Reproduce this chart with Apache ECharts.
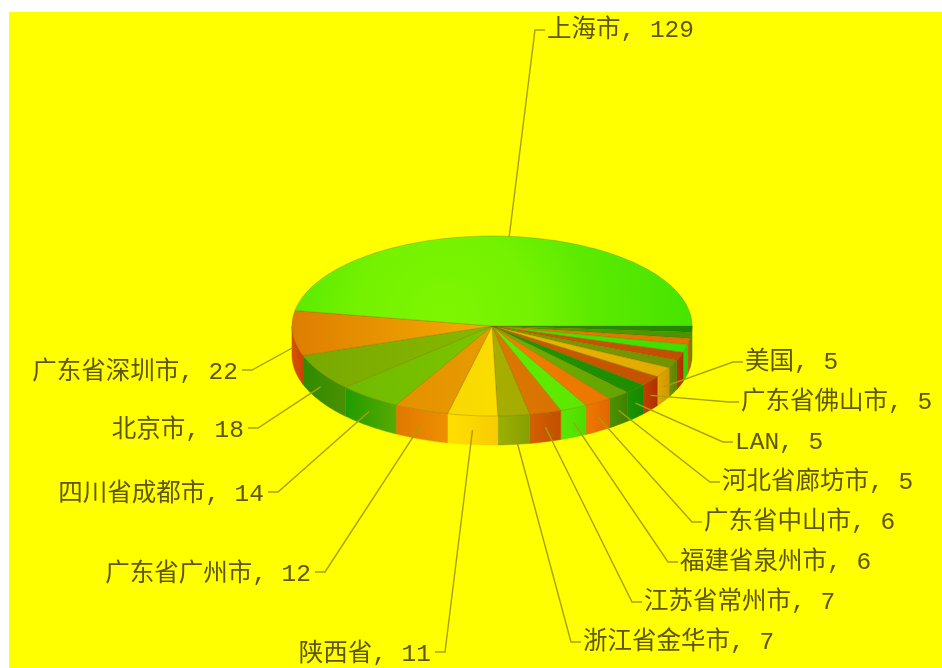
<!DOCTYPE html>
<html><head><meta charset="utf-8">
<style>html,body{margin:0;padding:0;background:#fff}#c{width:942px;height:668px;filter:blur(0.45px)}</style>
<script src="https://cdn.jsdelivr.net/npm/echarts@6/dist/echarts.min.js"></script>
</head><body><div id="c"></div>
<script>
// clockwise from the east edge of the pie; unnamed slices carry no label in the reference
const categories = ['', '', '', '', '', '', '美国', '广东省佛山市', 'LAN', '河北省廊坊市', '广东省中山市', '福建省泉州市', '江苏省常州市', '浙江省金华市', '陕西省', '广东省广州市', '四川省成都市', '北京市', '广东省深圳市', '上海市'];
const values = [3, 3, 3, 4, 4, 4, 5, 5, 5, 5, 6, 6, 7, 7, 11, 12, 14, 18, 22, 129];
const topLight = ['#229400','#559E00','#EC8000','#4CE400','#CE5800','#7E9E00','#EAB800','#CC5C00','#229400','#70AE00','#F08000','#62EA00','#DC7800','#A8AE00','#FADC00','#E89C00','#7CC400','#86B800','#F4AE00','#7EF600'];
const topDark  = ['#1C8A00','#4A9400','#E47000','#42DC00','#C44C00','#709200','#E0A800','#C25000','#1C8A00','#60A000','#E87000','#58E400','#D06800','#98A400','#F6CC00','#E08400','#6CB800','#78A800','#DE7E00','#46E400'];
const wallLight = ['#34A000','#4A9800','#E06000','#3CD800','#BC3800','#6C9000','#E0A800','#C04000','#1C9400','#4E9000','#F07800','#5AE800','#D46000','#9CB000','#FFE000','#E07800','#209C00','#2E8C00','#D85400','#46E400'];
const wallDark  = ['#2C9400','#408C00','#D85000','#30CC00','#AC3000','#5C8400','#D09800','#B03000','#168800','#408200','#E06800','#4EDC00','#C05000','#84A000','#F8CC00','#EE9000','#58AA00','#4A9000','#C84400','#40D800'];
const labelElbows = [null,null,null,null,null,null,[733,362],[729,402],[723,442],[710,482],[692,522],[668,562],[632,602],[571,642],[445,652],[325,572],[278,492],[258,428],[252,370],[535,30]];

const panel = {left: 9, top: 12};
const pie = {cx: 492, cy: 326, rx: 200, ry: 90, depth: 29};
const total = values.reduce((a, b) => a + b, 0);
const startDeg = values.map((v, i) => values.slice(0, i).reduce((a, b) => a + b, 0) / total * 360);
const endDeg = startDeg.map((s, i) => s + values[i] / total * 360);
const rim = d => {
  const t = d * Math.PI / 180;
  return [pie.cx + pie.rx * Math.cos(t), pie.cy + pie.ry * Math.sin(t)];
};
const arc = (a, b) => {
  const n = Math.max(2, Math.ceil((b - a) / 1.5)), out = [];
  for (let i = 0; i <= n; i++) out.push(rim(a + (b - a) * i / n));
  return out;
};
const hGrad = (x0, x1, c0, c1) => new echarts.graphic.LinearGradient(x0, 0, x1, 0, [{offset: 0, color: c0}, {offset: 1, color: c1}], true);

function renderSlice(params, api) {
  const i = params.dataIndex, a = startDeg[i], b = endDeg[i];
  const children = [];
  const wa = Math.min(a, 180), wb = Math.min(b, 180);
  if (wb > wa) {
    const front = arc(wa, wb);
    const back = front.slice().reverse().map(p => [p[0], p[1] + pie.depth]);
    const xs = front.map(p => p[0]);
    children.push({type: 'polygon', shape: {points: front.concat(back)},
      style: {fill: hGrad(Math.min(...xs), Math.max(...xs), wallLight[i], wallDark[i]), stroke: wallDark[i], lineWidth: 0.5}});
  }
  const pts = [[pie.cx, pie.cy]].concat(arc(a, b));
  const fill = i === values.length - 1
    ? new echarts.graphic.RadialGradient(445, 315, 250, [{offset: 0, color: topLight[i]}, {offset: 0.35, color: '#74F200'}, {offset: 0.6, color: '#5CEA00'}, {offset: 1, color: topDark[i]}], true)
    : (Math.cos((a + b) / 360 * Math.PI) < 0
        ? hGrad(pie.cx - pie.rx, pie.cx, topDark[i], topLight[i])
        : hGrad(pie.cx, pie.cx + pie.rx, topLight[i], topDark[i]));
  children.push({type: 'polygon', shape: {points: pts}, style: {fill: fill, stroke: 'rgba(110,90,0,0.35)', lineWidth: 0.8}});
  return {type: 'group', children: children};
}

function renderLabel(params, api) {
  const i = params.dataIndex, elbow = labelElbows[i];
  if (!elbow) return null;
  const mid = (startDeg[i] + endDeg[i]) / 2;
  const p = rim(mid);
  const start = mid < 180 ? [p[0], p[1] + pie.depth / 2] : p;
  const isRight = elbow[0] > start[0] || mid > 180;
  const stub = [elbow[0] + (isRight ? 10 : -10), elbow[1]];
  return {type: 'group', children: [
    {type: 'polyline', shape: {points: [start, elbow, stub]}, style: {fill: 'none', stroke: '#A8A000', lineWidth: 1.4}},
    {type: 'text', style: {
      x: stub[0] + (isRight ? 2 : -4), y: elbow[1] + (isRight ? 1 : 3),
      text: categories[i] + ', ' + api.value(0),
      fill: '#5E5600', font: '24.5px "Liberation Mono", "Noto Sans CJK SC"',
      align: isRight ? 'left' : 'right', verticalAlign: 'middle'
    }}
  ]};
}

const chart = echarts.init(document.getElementById('c'), null, {renderer: 'canvas'});
chart.setOption({
  animation: false,
  backgroundColor: '#fff',
  graphic: [{type: 'rect', z: -10, shape: {x: panel.left, y: panel.top, width: 942 - panel.left, height: 668 - panel.top}, style: {fill: '#FFFF00'}}],
  series: [
    {type: 'custom', coordinateSystem: 'none', z: 2, silent: true, renderItem: renderSlice, data: values.map(v => [v])},
    {type: 'custom', coordinateSystem: 'none', z: 3, silent: true, renderItem: renderLabel, data: values.map(v => [v])}
  ]
});
</script></body></html>
